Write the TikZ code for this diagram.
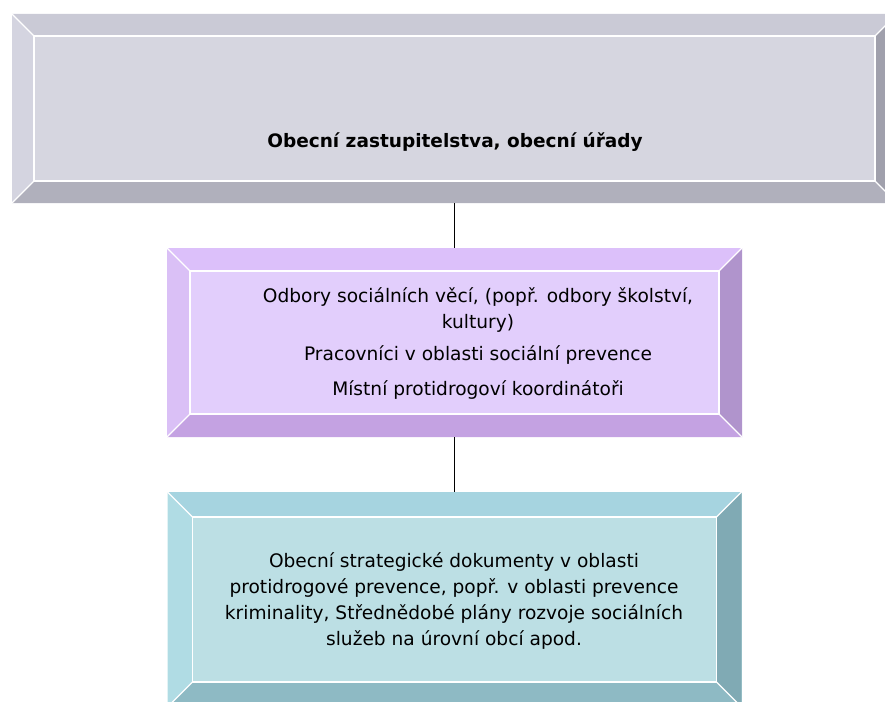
\documentclass[tikz,border=0pt]{standalone}
\usepackage{fontspec}
\setmainfont{DejaVu Sans}
\usepackage{tikz}
\usetikzlibrary{calc}

\definecolor{greyface}{RGB}{214,214,224}
\definecolor{greytop}{RGB}{202,202,214}
\definecolor{greyleft}{RGB}{212,212,224}
\definecolor{greybottom}{RGB}{176,176,188}
\definecolor{greyright}{RGB}{160,160,172}
\definecolor{lilacface}{RGB}{226,206,252}
\definecolor{lilactop}{RGB}{220,192,250}
\definecolor{lilacleft}{RGB}{218,192,246}
\definecolor{lilacbottom}{RGB}{196,162,226}
\definecolor{lilacright}{RGB}{176,148,204}
\definecolor{tealface}{RGB}{188,223,228}
\definecolor{tealtop}{RGB}{166,212,224}
\definecolor{tealleft}{RGB}{176,220,228}
\definecolor{tealbottom}{RGB}{142,186,196}
\definecolor{tealright}{RGB}{128,170,180}

% bevel of a box node: node, depth, top, left, bottom, right
\newcommand{\bevelfill}[6]{%
  \fill[#3] (#1.north west) -- (#1.north east) -- ($(#1.north east)+(-#2,#2)$) -- ($(#1.north west)+(#2,#2)$) -- cycle;
  \fill[#4] (#1.north west) -- ($(#1.north west)+(#2,#2)$) -- ($(#1.south west)+(#2,-#2)$) -- (#1.south west) -- cycle;
  \fill[#5] (#1.south west) -- ($(#1.south west)+(#2,-#2)$) -- ($(#1.south east)+(-#2,-#2)$) -- (#1.south east) -- cycle;
  \fill[#6] (#1.north east) -- (#1.south east) -- ($(#1.south east)+(-#2,-#2)$) -- ($(#1.north east)+(-#2,#2)$) -- cycle;
  \draw[bevelline] ($(#1.north west)+(#2,#2)$) rectangle ($(#1.south east)+(-#2,-#2)$);
  \draw[bevelline] (#1.north west) -- ++(#2,#2);
  \draw[bevelline] (#1.north east) -- ++(-#2,#2);
  \draw[bevelline] (#1.south west) -- ++(#2,-#2);
  \draw[bevelline] (#1.south east) -- ++(-#2,-#2);
}

\tikzset{
  bevelbox/.style={inner sep=0pt, outer sep=0pt, draw=none},
  bevelline/.style={white, line width=1.2pt},
  boxtext/.style={align=center, font=\fontsize{18.6}{26}\selectfont},
  link/.style={black, line width=1.5pt},
}

\begin{document}
\begin{tikzpicture}[x=1pt, y=-1pt]
  \useasboundingbox (0,0) rectangle (885,701);

  \node[bevelbox, fill=greyface, minimum width=885pt, minimum height=189pt] (council) at (454.5,108.5) {};
  \bevelfill{council}{22}{greytop}{greyleft}{greybottom}{greyright}

  \node[bevelbox, fill=lilacface, minimum width=575pt, minimum height=189pt] (office) at (454.5,342.5) {};
  \bevelfill{office}{23}{lilactop}{lilacleft}{lilacbottom}{lilacright}

  \node[bevelbox, fill=tealface, minimum width=574pt, minimum height=215pt] (plans) at (454.5,599.5) {};
  \bevelfill{plans}{25}{tealtop}{tealleft}{tealbottom}{tealright}

  \node[boxtext, font=\fontsize{18.5}{26}\selectfont\bfseries] (councillabel) at (455,142) {Obecní zastupitelstva, obecní úřady};
  \node[boxtext] (officelabel) at (478,343) {Odbory sociálních věcí, (popř. odbory školství,\\ kultury)\\[6pt]
    Pracovníci v oblasti sociální prevence\\[9pt]
    Místní protidrogoví koordinátoři};
  \node[boxtext] (planslabel) at (454,601) {Obecní strategické dokumenty v oblasti\\
    protidrogové prevence, popř. v oblasti prevence\\
    kriminality, Střednědobé plány rozvoje sociálních\\
    služeb na úrovní obcí apod.};

  \draw[link] (council.south) -- (office.north);
  \draw[link] (office.south) -- (plans.north);
\end{tikzpicture}
\end{document}
